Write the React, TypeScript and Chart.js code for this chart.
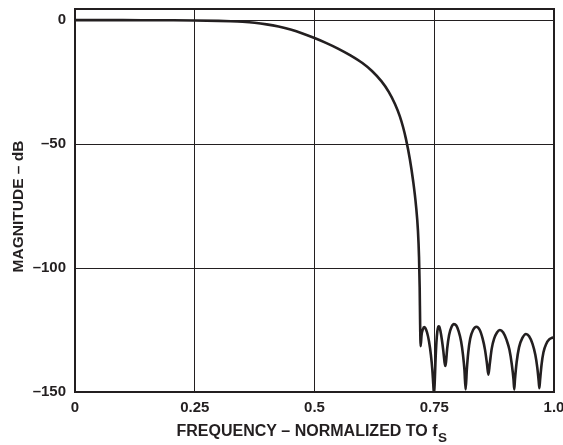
import { useEffect, useRef } from "react";
import { Chart, registerables } from "chart.js";

Chart.register(...registerables);

// Normalized frequency (f / fS)
const frequency = [
  0, 0.05, 0.1, 0.15, 0.2, 0.25, 0.3, 0.325, 0.35, 0.375, 0.4, 0.425, 0.45, 0.475,
  0.5, 0.525, 0.55, 0.575, 0.6, 0.62, 0.64, 0.655, 0.668, 0.678, 0.685, 0.691,
  0.699, 0.706, 0.712, 0.716, 0.7182, 0.7196, 0.7205, 0.7216,
  0.7235, 0.726, 0.729, 0.7315, 0.735, 0.739, 0.743, 0.746, 0.748, 0.7495,
  0.751, 0.7525, 0.7545, 0.7565, 0.7585, 0.7605, 0.763, 0.766, 0.769, 0.7715,
  0.773, 0.7745, 0.777, 0.781, 0.786, 0.791, 0.796, 0.801, 0.806, 0.81, 0.813,
  0.8155, 0.818, 0.821, 0.825, 0.831, 0.838, 0.845, 0.851, 0.856, 0.86, 0.863,
  0.866, 0.87, 0.875, 0.881, 0.887, 0.894, 0.901, 0.907, 0.912, 0.9155, 0.917,
  0.9185, 0.922, 0.927, 0.934, 0.9415, 0.948, 0.955, 0.961, 0.965, 0.968, 0.9694,
  0.971, 0.974, 0.978, 0.984, 0.99, 0.995, 1.0,
];

// Magnitude in dB
const magnitudeDb = [
  0, 0, 0, -0.02, -0.05, -0.12, -0.28, -0.42, -0.65, -1.05, -1.7, -2.6, -3.8, -5.35,
  -7.2, -9.25, -11.55, -14.2, -17.3, -20.5, -24.7, -28.9, -33.8, -38.7, -43.2, -48.0,
  -56.0, -65.0, -75.0, -85.0, -95.5, -108.0, -122.3, -131.5,
  -127, -124.8, -123.8, -124.2, -126, -129.5, -135, -141, -147, -151,
  -146, -138, -130, -125.5, -123.5, -123.6, -125.5, -129, -133.5, -138,
  -139.5, -138, -132.5, -127, -123.8, -122.6, -123.2, -125.5, -129.5, -135, -141,
  -149, -141, -134, -128.5, -125, -123.7, -125, -128.5, -133, -138.5, -143,
  -138.5, -132.5, -128.5, -126, -125, -126, -129, -133, -139, -145, -149,
  -145, -138, -132, -128.2, -126.6, -127.5, -130.5, -135, -140, -145.5, -148.5,
  -145, -139, -134, -130.5, -128.8, -128.2, -127.9,
];

const xTickValues = [0, 0.25, 0.5, 0.75, 1.0];
const xTickLabels = ["0", "0.25", "0.5", "0.75", "1.0"];
const yTickValues = [-150, -100, -50, 0];
const yTickLabels = ["\u2013150", "\u2013100", "\u201350", "0"];
const xMin = 0;
const xMax = 1;
const yMin = -150;
const yMax = 4.5;

const xAxisTitle = "FREQUENCY \u2013 NORMALIZED TO f";
const xAxisTitleSub = "S";
const yAxisTitle = "MAGNITUDE \u2013 dB";

const INK = "#231f20";
const FONT = "'Liberation Sans', Arial, Helvetica, sans-serif";

export default function App() {
  const ref = useRef<HTMLCanvasElement>(null);

  useEffect(() => {
    document.body.style.margin = "0";
    if (!ref.current) return;

    const decorPlugin = {
      id: "frameAndTitles",
      afterDatasetsDraw(chart: any) {
        const { ctx, chartArea: a } = chart;
        ctx.save();
        ctx.strokeStyle = INK;
        ctx.lineWidth = 2;
        ctx.strokeRect(a.left, a.top, a.right - a.left, a.bottom - a.top);
        ctx.restore();
      },
      afterDraw(chart: any) {
        const { ctx, chartArea: a } = chart;
        ctx.save();
        ctx.fillStyle = INK;
        ctx.textAlign = "left";
        ctx.textBaseline = "alphabetic";
        // X title with subscript
        const mainFont = `bold 16px ${FONT}`;
        const subFont = `bold 13.5px ${FONT}`;
        ctx.font = mainFont;
        const w1 = ctx.measureText(xAxisTitle).width;
        ctx.font = subFont;
        const w2 = ctx.measureText(xAxisTitleSub).width;
        const cx = (a.left + a.right) / 2 - 3;
        const x0 = cx - (w1 + w2) / 2;
        const base = a.bottom + 44;
        ctx.font = mainFont;
        ctx.fillText(xAxisTitle, x0, base);
        ctx.font = subFont;
        ctx.fillText(xAxisTitleSub, x0 + w1 + 0.5, base + 6);
        // Y title (rotated)
        ctx.font = `bold 15.5px ${FONT}`;
        ctx.translate(23, (a.top + a.bottom) / 2 + 6);
        ctx.rotate(-Math.PI / 2);
        ctx.textAlign = "center";
        ctx.fillText(yAxisTitle, 0, 0);
        ctx.restore();
      },
    };

    const tickFont = { family: FONT, size: 15, weight: "bold" as const };

    const chart = new Chart(ref.current, {
      type: "line",
      data: {
        datasets: [
          {
            data: frequency.map((f, i) => ({ x: f, y: magnitudeDb[i] })),
            borderColor: INK,
            borderWidth: 2.6,
            pointRadius: 0,
            cubicInterpolationMode: "monotone",
            fill: false,
            clip: 0,
          },
        ],
      },
      options: {
        animation: false,
        responsive: true,
        maintainAspectRatio: false,
        events: [],
        layout: { padding: { top: 9, right: 9, left: 0, bottom: 0 } },
        plugins: { legend: { display: false }, tooltip: { enabled: false } },
        scales: {
          x: {
            type: "linear",
            min: xMin,
            max: xMax,
            afterBuildTicks: (s: any) => {
              s.ticks = xTickValues.map((v) => ({ value: v }));
            },
            afterFit: (s: any) => {
              s.height = 53;
              s.paddingLeft = 0;
              s.paddingRight = 0;
            },
            grid: { color: INK, lineWidth: 1, drawTicks: false },
            border: { display: false },
            ticks: {
              autoSkip: false,
              maxRotation: 0,
              padding: 7,
              color: INK,
              font: tickFont,
              callback: (_v: any, i: number) => xTickLabels[i],
            },
          },
          y: {
            type: "linear",
            min: yMin,
            max: yMax,
            afterBuildTicks: (s: any) => {
              s.ticks = yTickValues.map((v) => ({ value: v }));
            },
            afterFit: (s: any) => {
              s.width = 75;
              s.paddingTop = 0;
              s.paddingBottom = 0;
            },
            grid: { color: INK, lineWidth: 1, drawTicks: false },
            border: { display: false },
            ticks: {
              autoSkip: false,
              padding: 9,
              color: INK,
              font: tickFont,
              callback: (_v: any, i: number) => yTickLabels[i],
            },
          },
        },
      },
      plugins: [decorPlugin],
    });

    return () => chart.destroy();
  }, []);

  return (
    <div style={{ width: 563, height: 445, position: "relative" }}>
      <canvas ref={ref} />
    </div>
  );
}
